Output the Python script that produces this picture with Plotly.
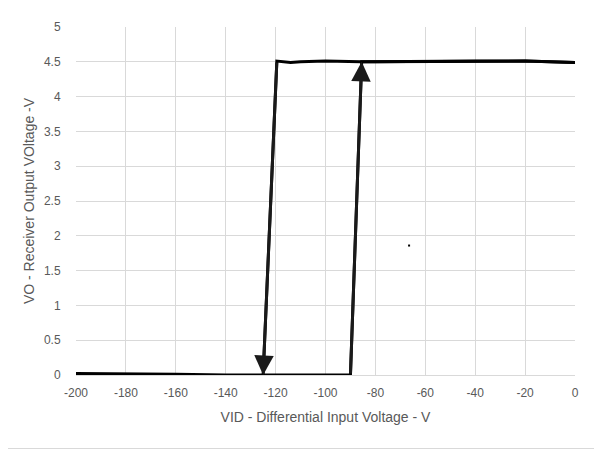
import plotly.graph_objects as go

# Rising sweep (VID increasing from -200 V to 0 V)
vid_up = [-200, -180, -160, -140, -125, -110, -100, -95, -90, -85.5, -80, -70, -60, -40, -20, 0]
vo_up = [0.02, 0.02, 0.01, 0.0, 0.0, 0.0, 0.01, 0.0, 0.0, 4.5, 4.5, 4.51, 4.5, 4.51, 4.51, 4.49]

# Falling sweep (VID decreasing from 0 V to -200 V)
vid_down = [0, -20, -40, -60, -80, -86, -100, -110, -114, -119.5, -125]
vo_down = [4.49, 4.51, 4.51, 4.5, 4.5, 4.5, 4.51, 4.5, 4.49, 4.51, 0.0]

# Stray point
vid_pt = [-66.5]
vo_pt = [1.86]

x_ticks = [-200, -180, -160, -140, -120, -100, -80, -60, -40, -20, 0]
y_ticks = [0, 0.5, 1, 1.5, 2, 2.5, 3, 3.5, 4, 4.5, 5]

x_title = "VID - Differential Input Voltage - V"
y_title = "VO - Receiver Output VOltage -V"

FONT = "Liberation Sans"
GRID = "#d9d9d9"
TXT = "#595959"

# figure geometry (page has an 8px body margin)
W, H = 594, 447
ML, MR, MT, MB = 68, 27, 12, 80
PW, PH = W - ML - MR, H - MT - MB

fig = go.Figure()
fig.add_trace(go.Scatter(x=vid_up, y=vo_up, mode="lines",
                         line=dict(color="black", width=3), showlegend=False))
fig.add_trace(go.Scatter(x=vid_down, y=vo_down, mode="lines",
                         line=dict(color="black", width=3), showlegend=False))
fig.add_trace(go.Scatter(x=vid_pt, y=vo_pt, mode="markers",
                         marker=dict(color="black", size=2, symbol="square"), showlegend=False))

# arrows along the transitions
i_up = vo_up.index(max(vo_up[:10]))
fig.add_annotation(x=vid_up[i_up], y=vo_up[i_up], ax=vid_up[i_up - 1], ay=vo_up[i_up - 1],
                   xref="x", yref="y", axref="x", ayref="y", text="", showarrow=True,
                   arrowhead=2, arrowsize=1.3, arrowwidth=3, arrowcolor="#1a1a1a")
fig.add_annotation(x=vid_down[-1], y=vo_down[-1], ax=vid_down[-2], ay=vo_down[-2],
                   xref="x", yref="y", axref="x", ayref="y", text="", showarrow=True,
                   arrowhead=2, arrowsize=1.3, arrowwidth=3, arrowcolor="#1a1a1a")

# chart-area border (right and bottom edges visible)
bx = (588 - ML) / PW
by = (MT + PH - 442) / PH
fig.add_shape(type="rect", xref="paper", yref="paper", x0=-0.3, x1=bx, y0=by, y1=1.1,
              line=dict(color=GRID, width=1), layer="below")
sx = (591 - ML) / PW
fig.add_shape(type="line", xref="paper", yref="paper", x0=sx, x1=sx, y0=-0.3, y1=1.1,
              line=dict(color="#d0d0d0", width=2), layer="below")

fig.update_layout(
    width=W, height=H,
    margin=dict(l=ML, r=MR, t=MT, b=MB),
    paper_bgcolor="white", plot_bgcolor="white",
    font=dict(family=FONT, color=TXT, size=12),
)
fig.update_xaxes(range=[-200, 0], tickvals=x_ticks, ticktext=[str(v) for v in x_ticks],
                 showgrid=True, gridcolor=GRID, gridwidth=1, zeroline=False,
                 showline=True, linecolor=GRID, linewidth=1,
                 ticks="outside", ticklen=7, tickcolor="rgba(0,0,0,0)",
                 tickfont=dict(size=12, color=TXT, family=FONT),
                 title=dict(text=x_title, font=dict(size=14, color=TXT, family=FONT), standoff=12))
fig.update_yaxes(range=[0, 5], tickvals=y_ticks, ticktext=[f"{v:g}" for v in y_ticks],
                 showgrid=True, gridcolor=GRID, gridwidth=1, zeroline=False,
                 showline=False,
                 ticks="outside", ticklen=12, tickcolor="rgba(0,0,0,0)",
                 tickfont=dict(size=12, color=TXT, family=FONT),
                 title=dict(text=y_title, font=dict(size=14, color=TXT, family=FONT), standoff=6))

fig.write_html("out.html")
